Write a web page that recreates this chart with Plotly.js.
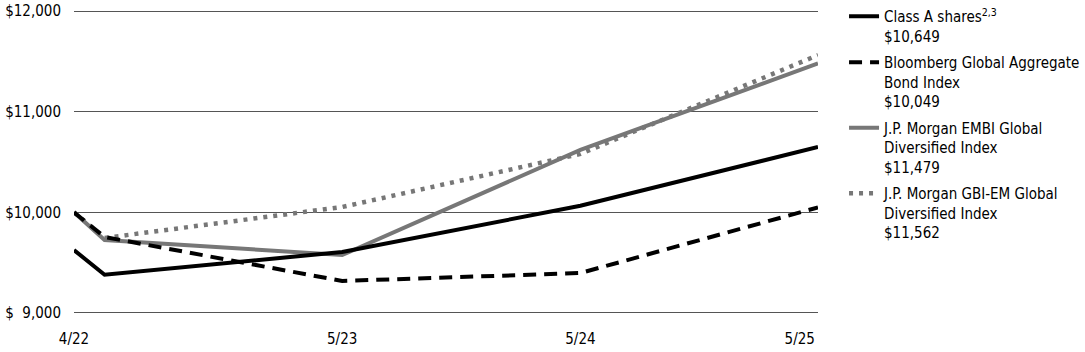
<!DOCTYPE html>
<html>
<head>
<meta charset="utf-8">
<script src="https://cdn.plot.ly/plotly-3.0.1.min.js"></script>
<style>
  html, body { margin: 0; padding: 0; background: #fff; }
  #chart { width: 1085px; height: 352px; }
</style>
</head>
<body>
<div id="chart"></div>
<script>
// ---- data ----
const dates = ["2022-04-14", "2022-05-31", "2023-05-31", "2024-05-31", "2025-05-31"];
const classA = [9625, 9380, 9606, 10065, 10649];
const bloombergAgg = [10000, 9755, 9318, 9397, 10049];
const embiGlobal = [10000, 9725, 9576, 10620, 11479];
const gbiEm = [10000, 9745, 10053, 10580, 11562];

const seriesNames = [
  "Class A shares<sup>2,3</sup><br>$10,649",
  "Bloomberg Global Aggregate<br>Bond Index<br>$10,049",
  "J.P. Morgan EMBI Global<br>Diversified Index<br>$11,479",
  "J.P. Morgan GBI-EM Global<br>Diversified Index<br>$11,562"
];
const xTickVals = ["2022-04-14", "2023-05-31", "2024-05-31", "2025-05-03"];
const xTickText = ["4/22", "5/23", "5/24", "5/25"];
const yTickVals = [9000, 10000, 11000, 12000];
const yTickText = ["$\u20079,000", "$10,000", "$11,000", "$12,000"];

const FONT = '"Liberation Sans Narrow", "DejaVu Sans Condensed", "Roboto", sans-serif';

const traces = [
  { x: dates, y: classA, name: seriesNames[0], mode: "lines", legendrank: 1, legendgroup: "a",
    line: { color: "#000000", width: 4 } },
  { x: dates, y: bloombergAgg, name: seriesNames[1], mode: "lines", legendrank: 2, legendgroup: "b",
    line: { color: "#000000", width: 4, dash: "13px,8px" } },
  { x: dates, y: embiGlobal, name: seriesNames[2], mode: "lines", legendrank: 3, legendgroup: "c",
    line: { color: "#777777", width: 4 } },
  { x: dates, y: gbiEm, name: seriesNames[3], mode: "lines", legendrank: 4, legendgroup: "d",
    line: { color: "#777777", width: 4.5, dash: "4px,6px" } }
];
// draw order: gray lines below black
const ordered = [traces[2], traces[3], traces[1], traces[0]];

const layout = {
  width: 1085, height: 352,
  margin: { l: 74, r: 267, t: 10, b: 38, pad: 0, autoexpand: false },
  paper_bgcolor: "#ffffff", plot_bgcolor: "#ffffff",
  font: { family: FONT, size: 15, color: "#000000" },
  showlegend: true,
  legend: {
    xref: "paper", x: 1.035, xanchor: "left",
    yref: "container", y: 1.022, yanchor: "top",
    maxheight: 360,
    traceorder: "grouped", valign: "top",
    font: { family: FONT, size: 15, color: "#000000" },
    bgcolor: "rgba(0,0,0,0)", borderwidth: 0, tracegroupgap: 4
  },
  xaxis: {
    type: "date",
    range: [dates[0], dates[dates.length - 1]],
    showgrid: false, zeroline: false, showline: false,
    tickmode: "array", tickvals: xTickVals, ticktext: xTickText,
    ticks: "", ticklabelstandoff: 14,
    tickfont: { family: FONT, size: 15, color: "#000000" },
    fixedrange: true
  },
  yaxis: {
    range: [8990, 12010],
    showgrid: true, gridcolor: "#555555", gridwidth: 1,
    zeroline: false, showline: false,
    tickmode: "array", tickvals: yTickVals, ticktext: yTickText,
    ticks: "", ticklabelstandoff: 12,
    tickfont: { family: FONT, size: 15, color: "#000000" },
    fixedrange: true
  },
  hovermode: false
};

Plotly.newPlot("chart", ordered, layout, { displayModeBar: false, staticPlot: true });
</script>
</body>
</html>
